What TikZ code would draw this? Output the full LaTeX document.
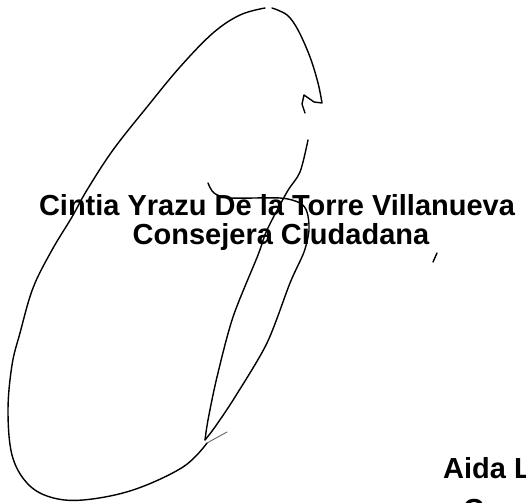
\documentclass[tikz,border=0pt]{standalone}
\usepackage{fontspec}
\setmainfont{Liberation Sans}
\begin{document}
\begin{tikzpicture}[x=1pt,y=-1pt,
  ink/.style={line width=1.4pt,line cap=round,line join=round,black},
  faint/.style={line width=0.9pt,line cap=round,black!60},
  label/.style={inner sep=0pt,font=\fontsize{29}{31}\selectfont\bfseries}]
\useasboundingbox (0,0) rectangle (526,502);
\fill[white] (0,0) rectangle (526,502);
\clip (0,0) rectangle (526,502);
% texts
\node[label,anchor=base] (name) at (277,216) {Cintia Yrazu De la Torre Villanueva};
\node[label,anchor=base] (role) at (281,244) {Consejera Ciudadana};
\node[label,anchor=base west] (aida) at (443,478) {Aida L};
\node[label,anchor=base west] (aidarole) at (463,519) {C};
% signature: big left loop
\draw[ink] plot[smooth,tension=0.6] coordinates {
  (207,443) (183,467) (133,490) (83,500) (50,497) (27,483) (12,455)
  (8,410) (12,365) (20,333) (33,288) (52,250) (72,217) (87,190)
  (113,150) (147,107) (180,67) (213,33) (240,15) (265,8)};
\draw[faint] (207,443) -- (227,432);
% signature: right top stroke with zigzag
\draw[ink] plot[smooth,tension=0.6] coordinates {
  (272,8) (287,15) (298,30) (310,57) (318,83) (322,103)}
  -- (314,102) -- (304,95) -- (302,104) -- (305,113);
% signature: long stroke down to the tip and back up
\draw[ink] plot[smooth,tension=0.5] coordinates {
  (308,140) (300,172) (287,192) (267,230) (258,255) (233,317) (217,377)
  (208,420) (205,440)};
\draw[ink] plot[smooth,tension=0.5] coordinates {
  (205,440) (215,427) (235,397) (267,343) (290,283) (304,252) (309,230)
  (307,212) (300,203) (280,198) (230,198) (214,193) (208,183)};
% small tick
\draw[ink] (437,253) -- (433,262);
\end{tikzpicture}
\end{document}
